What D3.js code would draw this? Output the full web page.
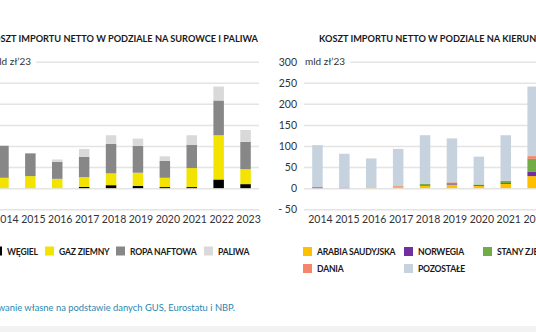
<!DOCTYPE html>
<html>
<head>
<meta charset="utf-8">
<script src="https://cdn.jsdelivr.net/npm/d3@7"></script>
<style>
  body { margin: 0; background: #fff; }
  svg { display: block; font-family: Lato, "Open Sans", sans-serif; }
</style>
</head>
<body>
<svg width="536" height="332"></svg>
<script>
// data (mld zł'23)
var years = ['2014','2015','2016','2017','2018','2019','2020','2021','2022','2023'];

var wegiel = [0, 0, 0, 3, 7, 5, 2.5, 2.5, 20.5, 9.5];
var gaz = [24.5, 28.5, 22, 23, 28, 31.5, 22, 45, 105, 35.5];
var ropa = [76, 54, 40.5, 48, 70, 63.5, 40, 55.5, 82.5, 65];
var paliwa = [0, 0, 5.5, 19, 20.5, 17.5, 11, 22.5, 33, 28];

var arabia = [0, 0, 2, 3, 6, 8, 5, 10, 28.5, 30];
var norwegia = [2, 0.5, 0, 0.5, 1.5, 1.5, 2, 2, 10, 35];
var usa = [0, 1, 0, 0, 2.5, 3.5, 1.7, 5, 31, 25];
var dania = [0, 0, 0, 1.5, 0, 1, 0, 0.5, 6.5, 8];
var pozostale = [100, 80, 68.5, 88, 115.5, 104, 66, 108, 165, 40];

var yTicks = [-50, 0, 50, 100, 150, 200, 250, 300];

var svg = d3.select('svg');

var y = d3.scaleLinear().domain([-50, 300]).range([209.2, 61.7]);

function panel(opt) {
        var g = svg.append('g');
        var x = d3.scaleBand().domain(years).range(opt.range)
                .paddingInner(0.61).paddingOuter(0.305);

        // grid + y labels
        var ya = d3.axisLeft(y).tickValues(yTicks)
                .tickSize(-(opt.range[1] - opt.range[0])).tickPadding(7)
                .tickFormat(function (d) { return d < 0 ? '- ' + Math.abs(d) : d; });
        var ag = g.append('g').attr('transform', 'translate(' + opt.range[0] + ',0)').call(ya);
        ag.select('.domain').remove();
        ag.selectAll('line').attr('stroke', '#e4e4e4').attr('stroke-width', 1.5);
        ag.selectAll('text').attr('font-size', 10.5).attr('fill', '#333')
                .attr('font-family', 'Lato, sans-serif');

        // unit label over the top gridline
        var bg = g.append('rect').attr('fill', '#fff');
        var ul = g.append('text').attr('x', opt.range[0] + 1).attr('y', y(300) + 3.5)
                .attr('font-size', 10).attr('fill', '#333').text('mld zł\u201923');
        var bb = ul.node().getBBox();
        bg.attr('x', bb.x - 1).attr('y', bb.y)
                .attr('width', bb.width + 6).attr('height', bb.height);

        // x labels
        var xa = d3.axisBottom(x).tickSize(0).tickPadding(3);
        var xg = g.append('g').attr('transform', 'translate(3,213)').call(xa);
        xg.select('.domain').remove();
        xg.selectAll('text').attr('font-size', 10.5).attr('fill', '#333')
                .attr('font-family', 'Lato, sans-serif');

        // stacked bars
        var rows = years.map(function (yr, i) {
                var o = { year: yr };
                opt.series.forEach(function (s) { o[s.key] = s.values[i]; });
                return o;
        });
        var st = d3.stack().keys(opt.series.map(function (s) { return s.key; }))(rows);
        st.forEach(function (layer, k) {
                g.append('g').attr('fill', opt.series[k].color)
                        .selectAll('rect').data(layer).join('rect')
                        .attr('x', function (d) { return x(d.data.year); })
                        .attr('width', x.bandwidth())
                        .attr('y', function (d) { return y(d[1]); })
                        .attr('height', function (d) { return y(d[0]) - y(d[1]); });
        });

        // title
        g.append('text').attr('x', opt.titleX).attr('y', 42).attr('text-anchor', opt.titleAnchor)
                .attr('font-size', 9.2).attr('font-weight', 700).attr('fill', '#1a1a1a')
                .text(opt.title);

        // legend
        opt.series.forEach(function (s, k) {
                var p = opt.legend[k];
                g.append('rect').attr('x', p[0]).attr('y', p[1]).attr('width', 9).attr('height', 9)
                        .attr('fill', s.color);
                g.append('text').attr('x', p[0] + 14).attr('y', p[1] + 8)
                        .attr('font-size', 8.6).attr('font-weight', 700).attr('fill', '#1a1a1a')
                        .attr('letter-spacing', -0.2)
                        .text(s.name);
        });
}

panel({
        range: [-10, 259],
        title: 'KOSZT IMPORTU NETTO W PODZIALE NA SUROWCE I PALIWA',
        titleX: 258, titleAnchor: 'end',
        series: [
                { key: 'w', name: 'WĘGIEL', values: wegiel, color: '#000000' },
                { key: 'g', name: 'GAZ ZIEMNY', values: gaz, color: '#f2e400' },
                { key: 'r', name: 'ROPA NAFTOWA', values: ropa, color: '#878787' },
                { key: 'p', name: 'PALIWA', values: paliwa, color: '#d9d9d9' }
        ],
        legend: [[-7, 246.5], [45, 246.5], [116, 246.5], [204, 246.5]]
});

panel({
        range: [304, 573],
        title: 'KOSZT IMPORTU NETTO W PODZIALE NA KIERUNKI',
        titleX: 319, titleAnchor: 'start',
        series: [
                { key: 'a', name: 'ARABIA SAUDYJSKA', values: arabia, color: '#ffc000' },
                { key: 'n', name: 'NORWEGIA', values: norwegia, color: '#7030a0' },
                { key: 'u', name: 'STANY ZJEDNOCZONE', values: usa, color: '#70ad47' },
                { key: 'd', name: 'DANIA', values: dania, color: '#f4876a' },
                { key: 'o', name: 'POZOSTAŁE', values: pozostale, color: '#c6d2de' }
        ],
        legend: [[303, 247], [404, 247], [483, 247], [303, 264], [404, 264]]
});

// source line + bottom strip
svg.append('text').attr('x', 235).attr('y', 311).attr('text-anchor', 'end')
        .attr('font-size', 9.4).attr('fill', '#2b87b0')
        .text('Źródło: opracowanie własne na podstawie danych GUS, Eurostatu i NBP.');
svg.append('rect').attr('x', 0).attr('y', 326).attr('width', 536).attr('height', 6).attr('fill', '#f2f2f2');
</script>
</body>
</html>
